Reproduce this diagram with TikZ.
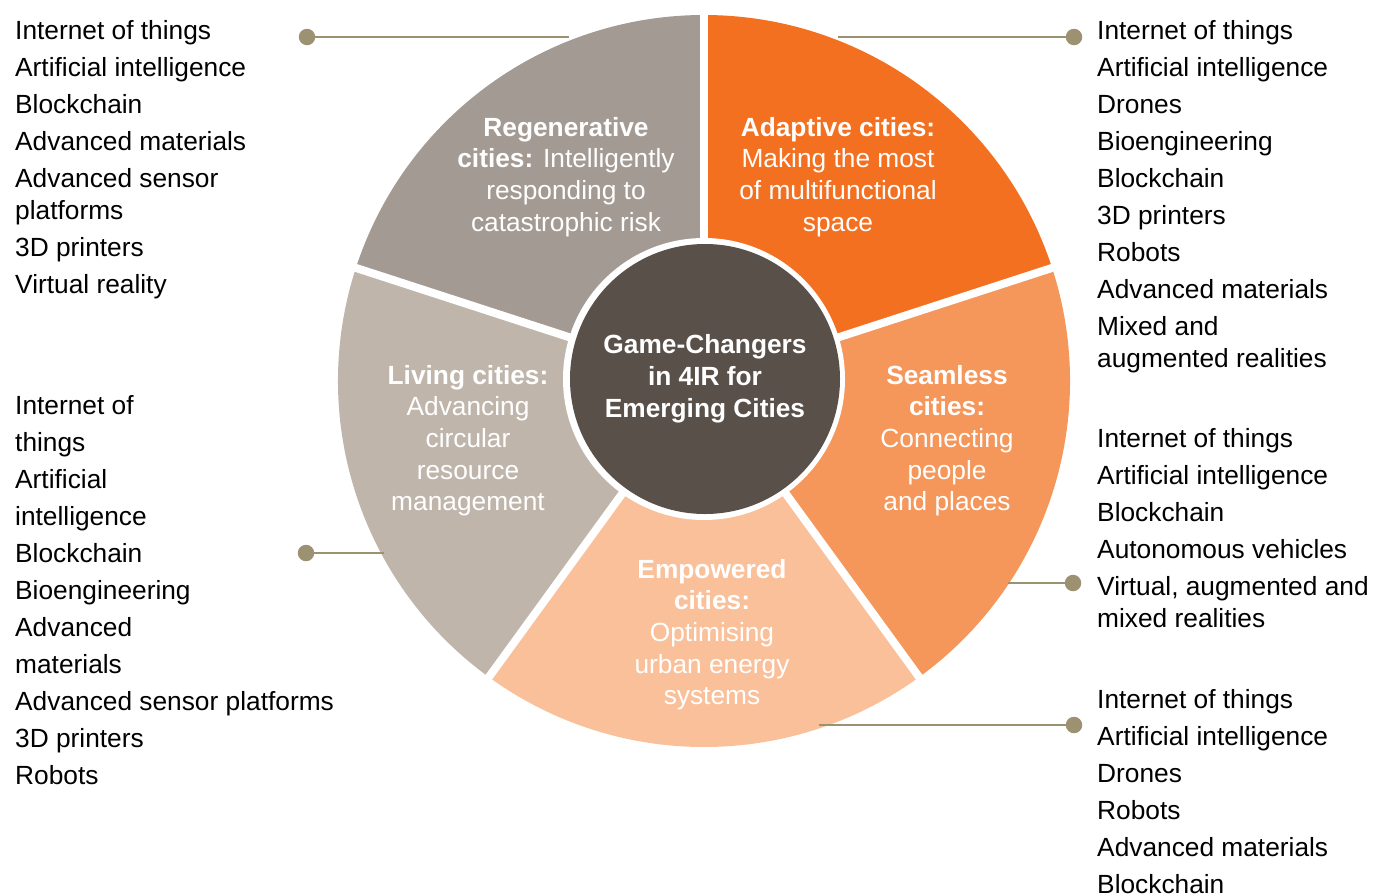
\documentclass[tikz,border=0pt]{standalone}
\usepackage{fontspec}
\setmainfont{Liberation Sans}
\definecolor{adaptcol}{HTML}{F37021}
\definecolor{seamcol}{HTML}{F5965A}
\definecolor{empowcol}{HTML}{FAC09A}
\definecolor{livecol}{HTML}{BFB5AB}
\definecolor{regencol}{HTML}{A39A93}
\definecolor{hubcol}{HTML}{59504A}
\definecolor{leadcol}{HTML}{9C9272}
\begin{document}
\begin{tikzpicture}[x=1pt,y=1pt,
  listtext/.style={anchor=base west, inner sep=0pt, text=black,
    font=\fontsize{26.3}{37}\selectfont},
  segtext/.style={anchor=base, inner sep=0pt, text=white,
    font=\fontsize{26.3}{31.7}\selectfont},
  hub/.style={circle, fill=hubcol, minimum size=270pt, inner sep=0pt,
    text=white, font=\bfseries\fontsize{26.3}{32}\selectfont},
  leaddot/.style={circle, fill=leadcol, inner sep=0pt, minimum size=16.5pt},
  leader/.style={draw=leadcol, line width=2pt},
  gap/.style={draw=white, line width=8pt}
]
\useasboundingbox (0,0) rectangle (1374,-895);

% ring of five sectors
\coordinate (c) at (704,-381);
\def\R{366}
\fill[adaptcol] (c) -- ++(90:\R) arc[start angle=90,end angle=18,radius=\R] -- cycle;
\fill[seamcol]  (c) -- ++(18:\R) arc[start angle=18,end angle=-54,radius=\R] -- cycle;
\fill[empowcol] (c) -- ++(-54:\R) arc[start angle=-54,end angle=-126,radius=\R] -- cycle;
\fill[livecol]  (c) -- ++(234:\R) arc[start angle=234,end angle=162,radius=\R] -- cycle;
\fill[regencol] (c) -- ++(162:\R) arc[start angle=162,end angle=90,radius=\R] -- cycle;
\foreach \a in {90,18,-54,-126,162}
  \draw[gap] (c) -- ++(\a:372);

% central hub
\fill[white] (704,-379) circle[radius=141];
\node[hub] (hub) at (705,-379)
  {\begin{tabular}{@{}c@{}}Game-Changers\\in 4IR for\\Emerging Cities\end{tabular}};

% sector labels
\node[segtext] (regen) at (566,-136)
  {\begin{tabular}[t]{@{}c@{}}\textbf{Regenerative}\\\textbf{cities:} Intelligently\\responding to\\catastrophic risk\end{tabular}};
\node[segtext] (adapt) at (838,-136)
  {\begin{tabular}[t]{@{}c@{}}\textbf{Adaptive cities:}\\Making the most\\of multifunctional\\space\end{tabular}};
\node[segtext] (seam) at (947,-384)
  {\begin{tabular}[t]{@{}c@{}}\textbf{Seamless}\\\textbf{cities:}\\Connecting\\people\\and places\end{tabular}};
\node[segtext] (live) at (468,-384)
  {\begin{tabular}[t]{@{}c@{}}\textbf{Living cities:}\\Advancing\\circular\\resource\\management\end{tabular}};
\node[segtext] (empow) at (712,-578)
  {\begin{tabular}[t]{@{}c@{}}\textbf{Empowered}\\\textbf{cities:}\\Optimising\\urban energy\\systems\end{tabular}};

% technology lists
\node[listtext] (listTL) at (15,-39)
  {\begin{tabular}[t]{@{}l@{}}Internet of things\\Artificial intelligence\\Blockchain\\Advanced materials\\Advanced sensor\\[-5pt]platforms\\3D printers\\Virtual reality\end{tabular}};
\node[listtext] (listLM) at (15,-414.5)
  {\begin{tabular}[t]{@{}l@{}}Internet of\\things\\Artificial\\intelligence\\Blockchain\\Bioengineering\\Advanced\\materials\\Advanced sensor platforms\\3D printers\\Robots\end{tabular}};
\node[listtext] (listTR) at (1097,-39)
  {\begin{tabular}[t]{@{}l@{}}Internet of things\\Artificial intelligence\\Drones\\Bioengineering\\Blockchain\\3D printers\\Robots\\Advanced materials\\Mixed and\\[-5pt]augmented realities\end{tabular}};
\node[listtext] (listRM) at (1097,-447)
  {\begin{tabular}[t]{@{}l@{}}Internet of things\\Artificial intelligence\\Blockchain\\Autonomous vehicles\\Virtual, augmented and\\[-5pt]mixed realities\end{tabular}};
\node[listtext] (listBR) at (1097,-708)
  {\begin{tabular}[t]{@{}l@{}}Internet of things\\Artificial intelligence\\Drones\\Robots\\Advanced materials\\Blockchain\end{tabular}};

% leader lines with dots
\node[leaddot] (dTL) at (307,-37) {};
\node[leaddot] (dTR) at (1074,-37) {};
\node[leaddot] (dLM) at (306,-553) {};
\node[leaddot] (dRM) at (1073,-583) {};
\node[leaddot] (dBR) at (1074,-725) {};
\coordinate (eTL) at (569,-37);
\coordinate (eTR) at (838,-37);
\coordinate (eLM) at (384,-553);
\coordinate (eRM) at (1008,-583);
\coordinate (eBR) at (819,-725);
\draw[leader] (dTL.center) -- (eTL);
\draw[leader] (eTR) -- (dTR.center);
\draw[leader] (dLM.center) -- (eLM);
\draw[leader] (eRM) -- (dRM.center);
\draw[leader] (eBR) -- (dBR.center);
\end{tikzpicture}
\end{document}
